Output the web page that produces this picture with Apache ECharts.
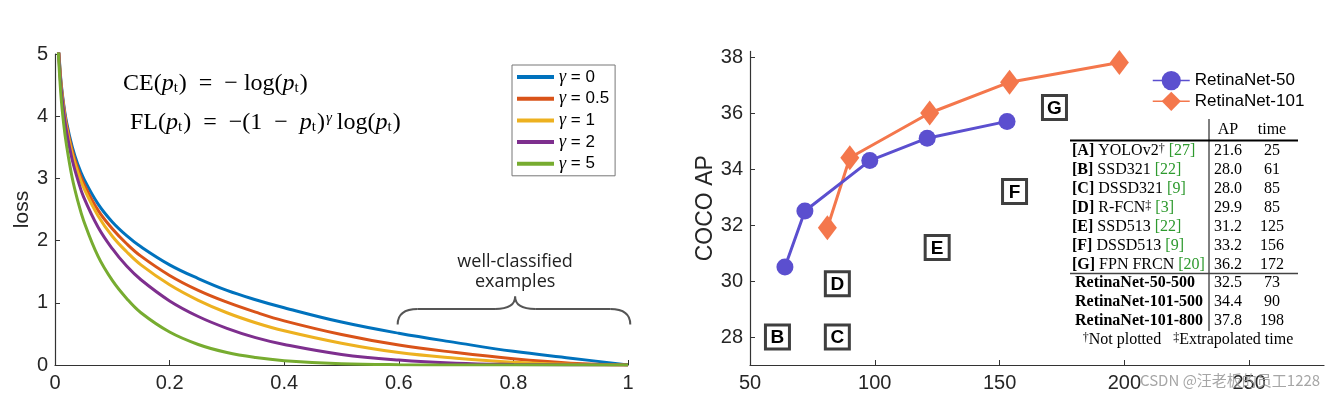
<!DOCTYPE html>
<html><head><meta charset="utf-8">
<script src="https://cdn.jsdelivr.net/npm/echarts@6/dist/echarts.min.js"></script>
<style>html,body{margin:0;padding:0;background:#fff}#c{width:1333px;height:398px}</style>
</head><body><div id="c"></div>
<script>
// ---------- Left chart data (loss vs p_t) ----------
const pt      = [0.005, 0.01, 0.015, 0.02, 0.03, 0.04, 0.05, 0.075, 0.1, 0.125, 0.15, 0.2, 0.25, 0.3, 0.35, 0.4, 0.5, 0.6, 0.7, 0.8, 0.9, 1.0];
const lossG0  = [5.30, 4.61, 4.20, 3.91, 3.51, 3.22, 3.00, 2.59, 2.30, 2.08, 1.90, 1.61, 1.39, 1.20, 1.05, 0.92, 0.69, 0.51, 0.36, 0.22, 0.11, 0];
const lossG05 = [5.29, 4.58, 4.17, 3.87, 3.45, 3.15, 2.92, 2.49, 2.19, 1.95, 1.75, 1.44, 1.20, 1.01, 0.85, 0.71, 0.49, 0.32, 0.20, 0.10, 0.03, 0];
const lossG1  = [5.27, 4.56, 4.14, 3.83, 3.40, 3.09, 2.85, 2.40, 2.07, 1.82, 1.61, 1.29, 1.04, 0.84, 0.68, 0.55, 0.35, 0.20, 0.11, 0.045, 0.011, 0];
const lossG2  = [5.25, 4.51, 4.08, 3.76, 3.30, 2.97, 2.70, 2.22, 1.87, 1.59, 1.37, 1.03, 0.78, 0.59, 0.44, 0.33, 0.17, 0.08, 0.03, 0.009, 0.001, 0];
const lossG5  = [5.17, 4.38, 3.89, 3.54, 3.01, 2.63, 2.32, 1.75, 1.36, 1.07, 0.84, 0.53, 0.33, 0.20, 0.12, 0.07, 0.022, 0.005, 0.001, 0, 0, 0];
const gammaNames = ['γ = 0', 'γ = 0.5', 'γ = 1', 'γ = 2', 'γ = 5'];

// ---------- Right chart data (COCO AP vs time) ----------
const r50Time  = [64, 72, 98, 121, 153];
const r50AP    = [30.5, 32.5, 34.3, 35.1, 35.7];
const r101Time = [81, 90, 122, 154, 198];
const r101AP   = [31.9, 34.4, 36.0, 37.1, 37.8];
const otherLetters = ['B', 'C', 'D', 'E', 'F', 'G'];
const otherTime    = [61, 85, 85, 125, 156, 172];
const otherAP      = [28.0, 28.0, 29.9, 31.2, 33.2, 36.2];
const apXTicks = [50, 100, 150, 200, 250];
const apYTicks = [28, 30, 32, 34, 36, 38];

// ---------- Table data ----------
const tableTags   = ['[A]', '[B]', '[C]', '[D]', '[E]', '[F]', '[G]'];
const tableModels = ['YOLOv2', 'SSD321', 'DSSD321', 'R-FCN', 'SSD513', 'DSSD513', 'FPN FRCN'];
const tableMarks  = ['†', '', '', '‡', '', '', ''];
const tableRefs   = ['[27]', '[22]', '[9]', '[3]', '[22]', '[9]', '[20]'];
const tableAP     = ['21.6', '28.0', '28.0', '29.9', '31.2', '33.2', '36.2'];
const tableTime   = ['25', '61', '85', '85', '125', '156', '172'];
const oursNames   = ['RetinaNet-50-500', 'RetinaNet-101-500', 'RetinaNet-101-800'];
const oursAP      = ['32.5', '34.4', '37.8'];
const oursTime    = ['73', '90', '198'];

const lossSeries = [lossG0, lossG05, lossG1, lossG2, lossG5];
const lossColors = ['#0072BD', '#D95319', '#EDB120', '#7E2F8E', '#77AC30'];
const SANS = 'Liberation Sans';
const SERIF = 'Liberation Serif';
const AX = '#262626';

const chart = echarts.init(document.getElementById('c'), null, {renderer: 'canvas'});

const axisCommon = {
  axisLine: {show: true, onZero: false, lineStyle: {color: '#333', width: 1.2}},
  axisTick: {show: true, inside: true, length: 5, lineStyle: {color: '#333', width: 1}},
  axisLabel: {fontSize: 20, color: AX, fontFamily: SANS},
  splitLine: {show: false}
};

const option = {
  animation: false,
  backgroundColor: '#fff',
  grid: [
    {left: 55, top: 54, width: 573, height: 311},
    {left: 750, top: 51.4, width: 574, height: 313.6}
  ],
  xAxis: [
    Object.assign({}, axisCommon, {gridIndex: 0, type: 'value', min: 0, max: 1, interval: 0.2,
      axisLabel: Object.assign({}, axisCommon.axisLabel, {margin: 8})}),
    Object.assign({}, axisCommon, {gridIndex: 1, type: 'value', min: 50, max: 280,
      axisTick: Object.assign({}, axisCommon.axisTick, {customValues: apXTicks}),
      axisLabel: Object.assign({}, axisCommon.axisLabel, {margin: 8, customValues: apXTicks})})
  ],
  yAxis: [
    Object.assign({}, axisCommon, {gridIndex: 0, type: 'value', min: 0, max: 5, interval: 1,
      name: 'loss', nameLocation: 'middle', nameGap: 22, nameRotate: 90,
      nameTextStyle: {fontSize: 21, color: AX, fontFamily: SANS},
      axisLabel: Object.assign({}, axisCommon.axisLabel, {margin: 7})}),
    Object.assign({}, axisCommon, {gridIndex: 1, type: 'value', min: 27, max: 38.2,
      name: 'COCO AP', nameLocation: 'middle', nameGap: 32, nameRotate: 90,
      nameTextStyle: {fontSize: 23, color: AX, fontFamily: SANS},
      axisTick: Object.assign({}, axisCommon.axisTick, {customValues: apYTicks}),
      axisLabel: Object.assign({}, axisCommon.axisLabel, {margin: 7, customValues: apYTicks})})
  ],
  legend: [
    {
      data: gammaNames, orient: 'vertical', left: 512, top: 65, icon: 'rect',
      itemWidth: 37, itemHeight: 4, itemGap: 3.7, padding: [3, 6, 3, 5],
      borderColor: '#777', borderWidth: 1, backgroundColor: '#fff',
      textStyle: {fontSize: 17, color: '#000', fontFamily: SANS,
        rich: {g: {fontFamily: SERIF, fontStyle: 'italic', fontSize: 18, color: '#000'}}},
      formatter: n => '{g|γ}' + n.slice(1)
    },
    {
      data: ['RetinaNet-50', 'RetinaNet-101'], orient: 'vertical', left: 1152, top: 71,
      itemWidth: 37, itemHeight: 24, itemGap: 1.5, padding: 0,
      lineStyle: {width: 1.5},
      textStyle: {fontSize: 17, color: '#000', fontFamily: SANS}
    }
  ],
  series: []
};

lossSeries.forEach((vals, k) => {
  option.series.push({
    type: 'line', name: gammaNames[k], xAxisIndex: 0, yAxisIndex: 0,
    data: pt.map((x, i) => [x, vals[i]]),
    symbol: 'none', showSymbol: false, smooth: 0.4, clip: true,
    color: lossColors[k],
    lineStyle: {width: 3, color: lossColors[k]}
  });
});

option.series.push({
  type: 'line', name: 'RetinaNet-50', xAxisIndex: 1, yAxisIndex: 1,
  data: r50Time.map((t, i) => [t, r50AP[i]]),
  symbol: 'circle', symbolSize: 17, color: '#5B4FCF',
  lineStyle: {width: 3, color: '#5B4FCF'}, itemStyle: {color: '#5B4FCF'}, z: 3
});
option.series.push({
  type: 'line', name: 'RetinaNet-101', xAxisIndex: 1, yAxisIndex: 1,
  data: r101Time.map((t, i) => [t, r101AP[i]]),
  symbol: 'diamond', symbolSize: [19, 25], color: '#F4774C',
  lineStyle: {width: 3, color: '#F4774C'}, itemStyle: {color: '#F4774C'}, z: 2
});
option.series.push({
  type: 'scatter', name: 'others', xAxisIndex: 1, yAxisIndex: 1,
  data: otherLetters.map((l, i) => ({name: l, value: [otherTime[i], otherAP[i]]})),
  symbol: 'rect', symbolSize: 24,
  itemStyle: {color: '#fff', borderColor: '#3f3f3f', borderWidth: 3, opacity: 1}, z: 5,
  label: {show: true, position: 'inside', formatter: '{b}', fontSize: 19, fontWeight: 'bold',
    fontFamily: SANS, color: '#000', textBorderWidth: 0, offset: [0, 1]}
});

chart.setOption(option);

// ---------- Annotations / graphic ----------
const els = [];
function px(x, y) { return chart.convertToPixel({gridIndex: 0}, [x, y]); }

// formulas
const fRich = {
  r: {fontFamily: SERIF, fontSize: 24, fill: '#000'},
  i: {fontFamily: SERIF, fontSize: 24, fontStyle: 'italic', fill: '#000'},
  s: {fontFamily: SERIF, fontSize: 15, fill: '#000', verticalAlign: 'bottom', padding: [0, 1, 0, 0]},
  u: {fontFamily: SERIF, fontSize: 15, fontStyle: 'italic', fill: '#000', verticalAlign: 'top', padding: [0, 5, 0, 1]}
};
els.push({type: 'text', style: {x: 123, y: 84, text: '{r|CE(}{i|p}{s|t}{r|)  =  − log(}{i|p}{s|t}{r|)}',
  rich: fRich, textVerticalAlign: 'middle', verticalAlign: 'middle'}});
els.push({type: 'text', style: {x: 130, y: 123, text: '{r|FL(}{i|p}{s|t}{r|)  =  −(1  −  }{i|p}{s|t}{r|)}{u|γ}{r|log(}{i|p}{s|t}{r|)}',
  rich: fRich, textVerticalAlign: 'middle', verticalAlign: 'middle'}});

// brace (data-anchored)
const bL = px(0.598, 0.65), bR = px(1.004, 0.65), bM = px(0.803, 1.10);
const yMid = px(0.8, 0.90)[1];
const dx = px(0.035, 0)[0] - px(0, 0)[0];
const braceStyle = {stroke: '#555', lineWidth: 2, fill: null};
function qb(x1, y1, cx, cy, x2, y2) {
  return {type: 'bezierCurve', shape: {x1: x1, y1: y1, cpx1: cx, cpy1: cy, x2: x2, y2: y2}, style: braceStyle};
}
els.push(qb(bL[0], bL[1], bL[0], yMid, bL[0] + dx, yMid));
els.push({type: 'line', shape: {x1: bL[0] + dx, y1: yMid, x2: bM[0] - dx, y2: yMid}, style: braceStyle});
els.push(qb(bM[0] - dx, yMid, bM[0], yMid, bM[0], bM[1]));
els.push(qb(bM[0], bM[1], bM[0], yMid, bM[0] + dx, yMid));
els.push({type: 'line', shape: {x1: bM[0] + dx, y1: yMid, x2: bR[0] - dx, y2: yMid}, style: braceStyle});
els.push(qb(bR[0] - dx, yMid, bR[0], yMid, bR[0], bR[1]));
const t1 = px(0.803, 1.66), t2 = px(0.803, 1.33);
els.push({type: 'text', style: {x: t1[0], y: t1[1], text: 'well-classified', fontFamily: 'Open Sans', fontSize: 18, fill: '#222',
  textAlign: 'center', align: 'center', textVerticalAlign: 'middle', verticalAlign: 'middle'}});
els.push({type: 'text', style: {x: t2[0], y: t2[1], text: 'examples', fontFamily: 'Open Sans', fontSize: 18, fill: '#222',
  textAlign: 'center', align: 'center', textVerticalAlign: 'middle', verticalAlign: 'middle'}});

// table
const tRich = {
  b: {fontFamily: SERIF, fontSize: 16, fontWeight: 'bold', fill: '#000'},
  n: {fontFamily: SERIF, fontSize: 16, fill: '#000'},
  g: {fontFamily: SERIF, fontSize: 16, fill: '#2E9A2E'},
  sup: {fontFamily: SERIF, fontSize: 12, fill: '#000', verticalAlign: 'top'}
};
function txt(x, y, text, align) {
  return {type: 'text', style: {x: x, y: y, text: text, rich: tRich, fontFamily: SERIF, fontSize: 16, fill: '#000',
    textAlign: align, align: align, textVerticalAlign: 'middle', verticalAlign: 'middle'}};
}
const colName = 1072, colLine = 1209, colAP = 1214, colTime = 1272;
els.push(txt(1228, 130, 'AP', 'center'));
els.push(txt(1272, 130, 'time', 'center'));
els.push({type: 'line', shape: {x1: 1070, y1: 140.5, x2: 1298, y2: 140.5}, style: {stroke: '#000', lineWidth: 2}});
els.push({type: 'line', shape: {x1: colLine, y1: 119, x2: colLine, y2: 331}, style: {stroke: '#000', lineWidth: 1}});
els.push({type: 'line', shape: {x1: 1070, y1: 273.5, x2: 1298, y2: 273.5}, style: {stroke: '#444', lineWidth: 1.3}});
tableTags.forEach((tag, i) => {
  const y = 150.5 + i * 19;
  const mark = tableMarks[i] ? '{sup|' + tableMarks[i] + '}' : '';
  els.push(txt(colName, y, '{b|' + tag + '}{n| ' + tableModels[i] + '}' + mark + '{n| }{g|' + tableRefs[i] + '}', 'left'));
  els.push(txt(colAP, y, tableAP[i], 'left'));
  els.push(txt(colTime, y, tableTime[i], 'center'));
});
oursNames.forEach((nm, i) => {
  const y = 282.5 + i * 19;
  els.push(txt(colName + 3, y, '{b|' + nm + '}', 'left'));
  els.push(txt(colAP, y, oursAP[i], 'left'));
  els.push(txt(colTime, y, oursTime[i], 'center'));
});
els.push(txt(1188, 340, '{sup|†}{n|Not plotted   }{sup|‡}{n|Extrapolated time}', 'center'));

// watermark
els.push({type: 'text', z: 100, style: {x: 1140, y: 380, text: 'CSDN @汪老板的员工1228', fontFamily: 'Noto Sans CJK SC', fontSize: 15,
  fill: 'rgba(150,150,150,0.85)', textVerticalAlign: 'middle', verticalAlign: 'middle'}});

chart.setOption({graphic: {elements: els}});
</script>
</body></html>
